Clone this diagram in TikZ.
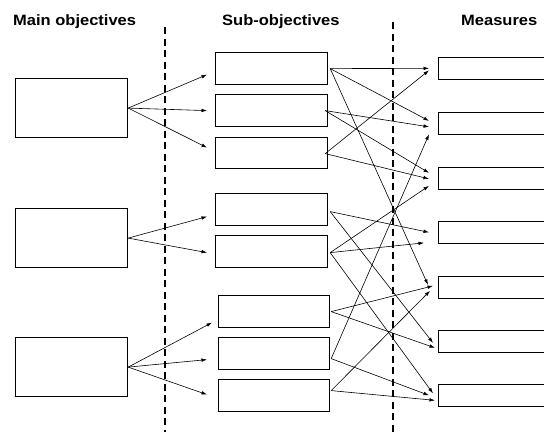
\documentclass[tikz,border=0pt]{standalone}
\usepackage{fontspec}
\setmainfont{Liberation Sans}
\newfontfamily\headfont[FakeStretch=1.1]{Liberation Sans}
\usetikzlibrary{arrows.meta,calc}

\begin{document}
\begin{tikzpicture}[x=1pt,y=-1pt,
  box/.style={draw=black,line width=1.2pt,fill=white,inner sep=0pt,anchor=north west},
  mainbox/.style={box,minimum width=112pt,minimum height=59pt},
  subbox/.style={box,minimum width=112pt,minimum height=32pt},
  measbox/.style={box,minimum width=130pt,minimum height=21.5pt},
  link/.style={line width=0.6pt,-{Latex[length=5.5pt,width=3.6pt]}},
  divider/.style={line width=1.8pt,dash pattern=on 7pt off 4.5pt},
  heading/.style={font=\headfont\bfseries\fontsize{15}{18}\selectfont,anchor=base west,inner sep=0pt}]

\useasboundingbox (0,0) rectangle (544,432);
\clip (0,0) rectangle (544,432);

% column headings
\node[heading] (h1) at (13,25) {Main objectives};
\node[heading] (h2) at (222,25) {Sub-objectives};
\node[heading] (h3) at (461,25) {Measures};

% dashed column separators
\coordinate (d1t) at (165,27);
\coordinate (d1b) at (165,432);
\coordinate (d2t) at (393,22);
\coordinate (d2b) at (393,432);
\draw[divider] (d1t) -- (d1b);
\draw[divider] (d2t) -- (d2b);

% main objectives
\node[mainbox] (m1) at (15,78) {};
\node[mainbox] (m2) at (15,208) {};
\node[mainbox] (m3) at (15,337) {};

% sub-objectives
\node[subbox] (s1) at (215,52) {};
\node[subbox] (s2) at (215,94) {};
\node[subbox,minimum height=31pt] (s3) at (215,137) {};
\node[subbox] (s4) at (215,193) {};
\node[subbox] (s5) at (215,235) {};
\node[subbox,minimum width=111pt] (s6) at (218,295) {};
\node[subbox,minimum width=111pt] (s7) at (218,337) {};
\node[subbox,minimum width=111pt] (s8) at (218,379) {};

% measures
\node[measbox] (r1) at (438,57) {};
\node[measbox] (r2) at (438,112) {};
\node[measbox] (r3) at (438,167) {};
\node[measbox] (r4) at (438,221) {};
\node[measbox] (r5) at (438,276) {};
\node[measbox] (r6) at (438,330) {};
\node[measbox] (r7) at (438,384) {};

% main objectives -> sub-objectives
\draw[link] (m1.east) -- ($(s1.west)+(-8,6)$);
\draw[link] (m1.east) -- ($(s2.west)+(-8,0)$);
\draw[link] (m1.east) -- ($(s3.west)+(-8,-5.5)$);
\draw[link] (m2.east) -- ($(s4.west)+(-8,7)$);
\draw[link] (m2.east) -- ($(s5.west)+(-8,1)$);
\draw[link] (m3.east) -- ($(s6.west)+(-6,11)$);
\draw[link] (m3.east) -- ($(s7.west)+(-11,6)$);
\draw[link] (m3.east) -- ($(s8.west)+(-11,-1)$);

% sub-objectives -> measures
\draw[link] ($(s1.east)+(2,0)$) -- ($(r1.west)+(-9,0)$);
\draw[link] ($(s1.east)+(2,0)$) -- ($(r2.west)+(-9,-2.5)$);
\draw[link] ($(s1.east)+(2,0)$) -- ($(r5.west)+(-10,-2.5)$);
\draw[link] ($(s2.east)+(-3,0)$) -- ($(r2.west)+(-9,3.5)$);
\draw[link] ($(s2.east)+(-3,0)$) -- ($(r3.west)+(-9,-5.5)$);
\draw[link] ($(s3.east)+(-3,0.5)$) -- ($(r1.west)+(-9,2)$);
\draw[link] ($(s3.east)+(-3,0.5)$) -- ($(r3.west)+(-9,0.5)$);
\draw[link] ($(s4.east)+(2,2)$) -- ($(r4.west)+(-9,0)$);
\draw[link] ($(s4.east)+(2,2)$) -- ($(r6.west)+(-5,1.5)$);
\draw[link] ($(s5.east)+(2,1)$) -- ($(r3.west)+(-9,7.5)$);
\draw[link] ($(s5.east)+(2,1)$) -- ($(r4.west)+(-14,10.5)$);
\draw[link] ($(s5.east)+(2,1)$) -- ($(r7.west)+(-5,-2)$);
\draw[link] ($(s6.east)+(1,0)$) -- ($(r5.west)+(-5,-1.5)$);
\draw[link] ($(s6.east)+(1,0)$) -- ($(r6.west)+(-3,6.5)$);
\draw[link] ($(s7.east)+(1,5)$) -- ($(r2.west)+(-9,11)$);
\draw[link] ($(s7.east)+(1,5)$) -- ($(r7.west)+(-9,0)$);
\draw[link] ($(s8.east)+(1,-5)$) -- ($(r5.west)+(-8,3.5)$);
\draw[link] ($(s8.east)+(1,-5)$) -- ($(r7.west)+(-3,5)$);
\end{tikzpicture}
\end{document}
